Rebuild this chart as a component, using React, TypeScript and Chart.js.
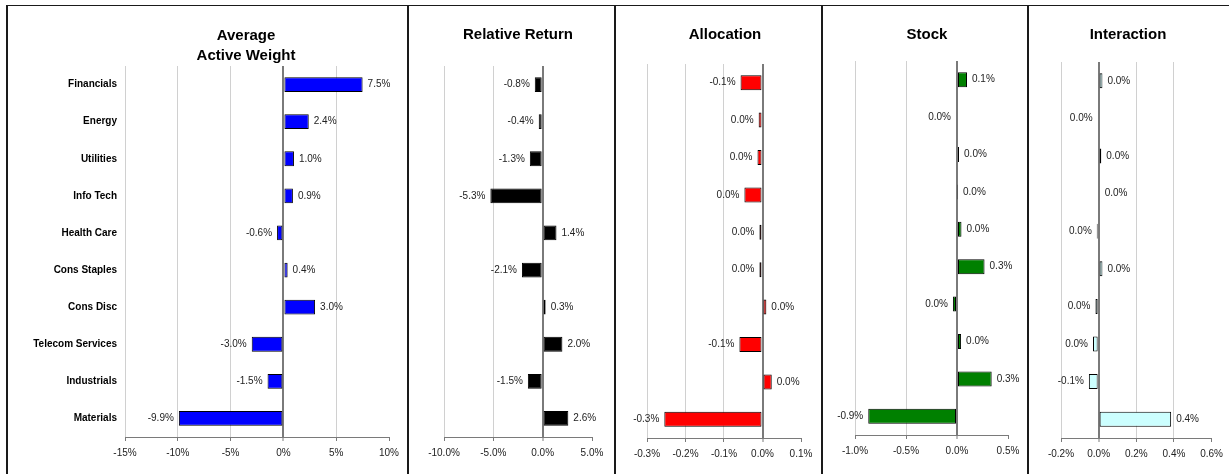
import React, { useEffect, useRef } from "react";
import { Chart, registerables } from "chart.js";

Chart.register(...registerables);

const FONT = '"Liberation Sans", Arial, Helvetica, sans-serif';

// ---- Data ----
const categories = [
  "Financials",
  "Energy",
  "Utilities",
  "Info Tech",
  "Health Care",
  "Cons Staples",
  "Cons Disc",
  "Telecom Services",
  "Industrials",
  "Materials",
];
const activeWeight = [7.5, 2.4, 1.0, 0.9, -0.6, 0.4, 3.0, -3.0, -1.5, -9.9];
const relativeReturn = [-0.8, -0.4, -1.3, -5.3, 1.4, -2.1, 0.3, 2.0, -1.5, 2.6];
const allocation = [-0.057, -0.01, -0.013, -0.047, -0.008, -0.008, 0.01, -0.06, 0.024, -0.255];
const stock = [0.098, -0.01, 0.02, 0.005, 0.044, 0.27, -0.04, 0.04, 0.34, -0.87];
const interaction = [0.02, -0.005, 0.014, 0.005, -0.01, 0.02, -0.017, -0.03, -0.052, 0.385];

const panelTitles = [["Average", "Active Weight"], ["Relative Return"], ["Allocation"], ["Stock"], ["Interaction"]];
const axisMin = [-15, -10, -0.3, -1.0, -0.2];
const axisMax = [10, 5, 0.1, 0.5, 0.6];
const axisStep = [5, 5, 0.1, 0.5, 0.2];
const tickDecimals = [0, 1, 1, 1, 1];
const seriesValues = [activeWeight, relativeReturn, allocation, stock, interaction];
const barColors = ["#0000FF", "#000000", "#FF0000", "#008000", "#CCFFFF"];

// ---- Layout (page coords) ----
const panels = [
  { P: 8, W: 399, L: 125, R: 389, T: 66, B: 437, titleX: 246, titleY: 25 },
  { P: 409, W: 205, L: 444, R: 592, T: 66, B: 437, titleX: 518, titleY: 24 },
  { P: 616, W: 205, L: 647, R: 801, T: 64, B: 438, titleX: 725, titleY: 24 },
  { P: 823, W: 204, L: 855, R: 1008, T: 61, B: 435, titleX: 927, titleY: 24 },
  { P: 1029, W: 200, L: 1061, R: 1214, T: 62, B: 438, titleX: 1128, titleY: 24 },
];
const H = 474;

const fmt = (v: number, d: number) => {
  let s = Number(v).toFixed(d);
  if (/^-0(\.0+)?$/.test(s)) s = s.slice(1);
  return s + "%";
};

const valueLabels = {
  id: "valueLabels",
  afterDatasetsDraw(chart: any) {
    const ctx = chart.ctx;
    const meta = chart.getDatasetMeta(0);
    const data = chart.data.datasets[0].data as number[];
    ctx.save();
    ctx.font = `10px ${FONT}`;
    ctx.fillStyle = "#222";
    ctx.textBaseline = "middle";
    meta.data.forEach((bar: any, i: number) => {
      const v = data[i];
      const { x, y, base } = bar.getProps(["x", "y", "base"], true);
      const neg = v < 0;
      const end = neg ? Math.min(x, base) : Math.max(x, base);
      ctx.textAlign = neg ? "right" : "left";
      ctx.fillText(fmt(v, 1), neg ? end - 5 : end + 5, y);
    });
    ctx.restore();
  },
};

function Panel({ idx }: { idx: number }) {
  const ref = useRef<HTMLCanvasElement>(null);
  const p = panels[idx];
  useEffect(() => {
    if (!ref.current) return;
    const yWidth = p.L - p.P;
    const xHeight = H - p.B;
    const isZero = (v: any) => typeof v === "number" && Math.abs(v) < 1e-9;
    const chart = new Chart(ref.current, {
      type: "bar",
      data: {
        labels: categories,
        datasets: [
          {
            data: seriesValues[idx],
            backgroundColor: barColors[idx],
            borderColor: "#000000",
            borderWidth: 1,
            borderSkipped: false,
            barPercentage: 0.4,
            categoryPercentage: 1,
          },
        ],
      },
      options: {
        indexAxis: "y",
        animation: false,
        responsive: false,
        devicePixelRatio: 1,
        layout: { padding: { left: 0, right: p.P + p.W - p.R, top: p.T, bottom: 0 } },
        plugins: { legend: { display: false }, tooltip: { enabled: false }, title: { display: false } },
        scales: {
          x: {
            type: "linear",
            min: axisMin[idx],
            max: axisMax[idx],
            afterFit: (s: any) => {
              s.height = xHeight;
            },
            ticks: {
              stepSize: axisStep[idx],
              autoSkip: false,
              maxRotation: 0,
              padding: 6,
              color: "#222",
              font: { family: FONT, size: 10 },
              callback: (v: any) => fmt(Number(v), tickDecimals[idx]),
            },
            grid: {
              color: (c: any) => {
                const n = c.scale.ticks.length;
                if (c.tick && isZero(c.tick.value)) return "#7a7a7a";
                if (c.index === n - 1) return "rgba(0,0,0,0)";
                return "#d0d0d0";
              },
              lineWidth: (c: any) => (c.tick && isZero(c.tick.value) ? 2 : 1),
              tickColor: "#7a7a7a",
              tickWidth: 1,
              tickLength: 4,
              drawTicks: true,
            },
            border: { display: true, color: "#7a7a7a", width: 1 },
          },
          y: {
            type: "category",
            afterFit: (s: any) => {
              s.width = yWidth;
            },
            grid: { display: false, drawTicks: false },
            border: { display: false },
            ticks: {
              display: idx === 0,
              padding: 8,
              color: "#000",
              font: { family: FONT, size: 10, weight: "bold" },
            },
          },
        },
      } as any,
      plugins: [valueLabels],
    });
    return () => chart.destroy();
  }, [idx]);
  return (
    <canvas
      ref={ref}
      width={p.W}
      height={H}
      style={{ position: "absolute", left: p.P, top: 0, width: p.W, height: H }}
    />
  );
}

export default function App() {
  const lineColor = "#1a1a1a";
  const seps = [6, 407, 614, 821, 1027];
  return (
    <div style={{ position: "absolute", left: 0, top: 0, width: 1229, height: H, background: "#fff", overflow: "hidden" }}>
      {panels.map((_, i) => (
        <Panel key={i} idx={i} />
      ))}
      {seps.map((x, i) => (
        <div key={"s" + i} style={{ position: "absolute", left: x, top: 5, width: 2, height: H - 5, background: lineColor }} />
      ))}
      <div style={{ position: "absolute", left: 6, top: 5, width: 1229 - 6, height: 1, background: lineColor }} />
      {panels.map((p, i) => (
        <div
          key={"t" + i}
          style={{
            position: "absolute",
            left: p.titleX - 100,
            top: p.titleY,
            width: 200,
            textAlign: "center",
            fontFamily: FONT,
            fontWeight: "bold",
            fontSize: 15,
            lineHeight: "20px",
            color: "#000",
          }}
        >
          {panelTitles[i].map((t, j) => (
            <div key={j}>{t}</div>
          ))}
        </div>
      ))}
    </div>
  );
}
